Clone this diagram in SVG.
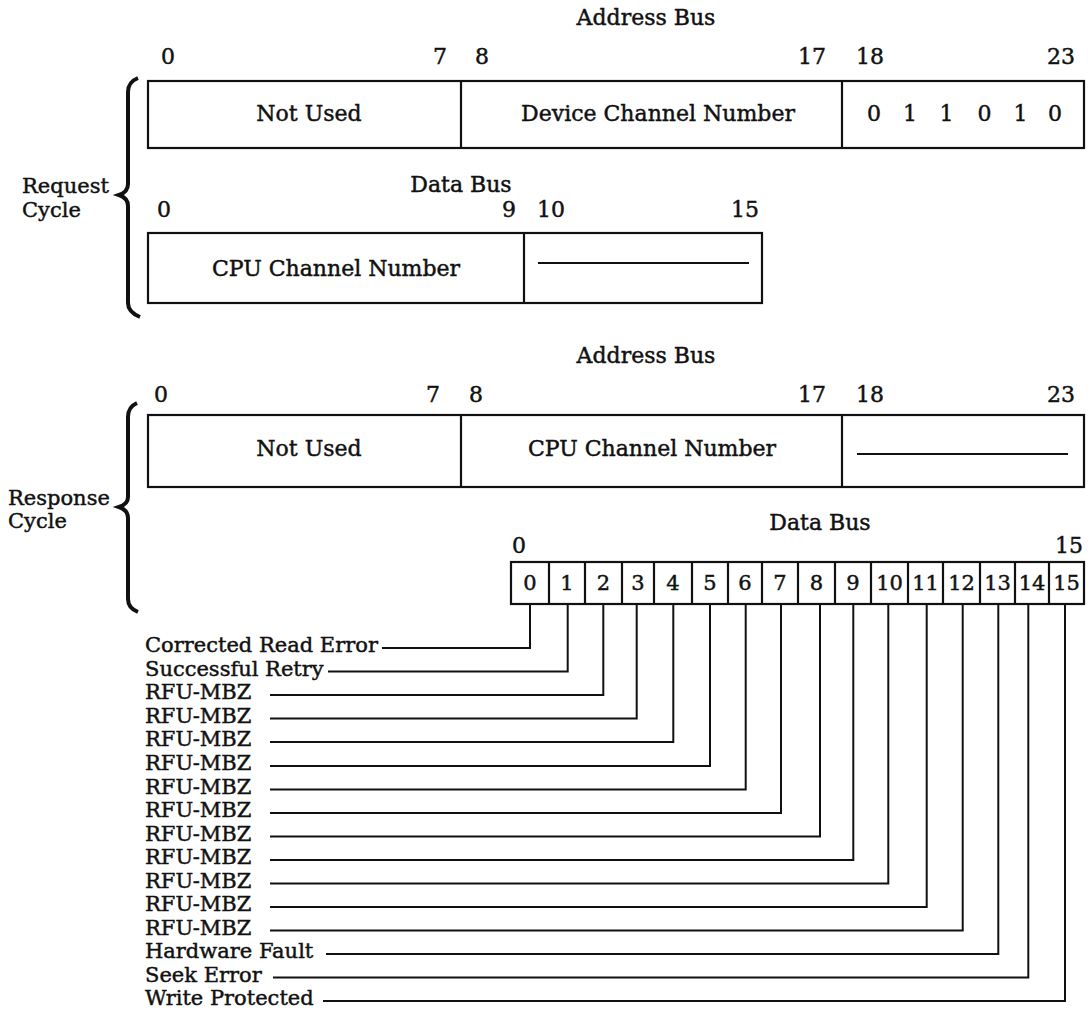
<svg xmlns="http://www.w3.org/2000/svg" width="1092" height="1014" viewBox="0 0 1092 1014">
<style>
text{font-family:"DejaVu Serif","Liberation Serif",serif;fill:#111;stroke:#111;stroke-width:0.45;}
.t{font-size:22px;}
.s{font-size:21px;}
.box{fill:#fff;stroke:#111;stroke-width:2.2;}
.ln{stroke:#111;stroke-width:2.2;fill:none;}
.br{stroke:#111;stroke-width:4;fill:none;stroke-linejoin:miter;}
.c{stroke:#111;stroke-width:2;fill:none;}
.m{text-anchor:middle;}
.e{text-anchor:end;}
</style>
<rect width="1092" height="1014" fill="#fff"/>

<g id="request-cycle">
  <path class="br" d="M138,78 Q128,82 128,92 L128,184 Q128,192 119,195 Q128,198 128,206 L128,303 Q128,312 140,317"/>
  <text class="s" x="22" y="193">Request</text>
  <text class="s" x="22" y="216.5">Cycle</text>
</g>

<g id="req-address">
  <text class="t m" x="646" y="25">Address Bus</text>
  <text class="t" x="161" y="64">0</text>
  <text class="t e" x="447" y="64">7</text>
  <text class="t" x="475" y="64">8</text>
  <text class="t e" x="826" y="64">17</text>
  <text class="t" x="856" y="64">18</text>
  <text class="t e" x="1075" y="64">23</text>
  <rect class="box" x="148" y="81" width="936" height="67"/>
  <line class="ln" x1="461" y1="81" x2="461" y2="148"/>
  <line class="ln" x1="842" y1="81" x2="842" y2="148"/>
  <text class="t m" x="309" y="121">Not Used</text>
  <text class="t m" x="658" y="121">Device Channel Number</text>
  <text class="t m" x="874" y="121">0</text>
  <text class="t m" x="910" y="121">1</text>
  <text class="t m" x="946.5" y="121">1</text>
  <text class="t m" x="984.5" y="121">0</text>
  <text class="t m" x="1020.5" y="121">1</text>
  <text class="t m" x="1055" y="121">0</text>
</g>

<g id="req-data">
  <text class="t m" x="461" y="192">Data Bus</text>
  <text class="t" x="157" y="217">0</text>
  <text class="t e" x="516" y="217">9</text>
  <text class="t" x="537" y="217">10</text>
  <text class="t e" x="759" y="217">15</text>
  <rect class="box" x="148" y="233" width="614" height="70"/>
  <line class="ln" x1="524" y1="233" x2="524" y2="303"/>
  <text class="t m" x="336" y="276">CPU Channel Number</text>
  <line class="ln" x1="538" y1="263" x2="749" y2="263" stroke-width="2.6"/>
</g>

<g id="response-cycle">
  <path class="br" d="M137,403 Q128,407 128,417 L128,497 Q128,504 119,507 Q128,510 128,518 L128,599 Q128,608 138,612"/>
  <text class="s" x="8" y="505">Response</text>
  <text class="s" x="8" y="528">Cycle</text>
</g>

<g id="resp-address">
  <text class="t m" x="646" y="363">Address Bus</text>
  <text class="t" x="154" y="402">0</text>
  <text class="t e" x="440" y="402">7</text>
  <text class="t" x="469" y="402">8</text>
  <text class="t e" x="826" y="402">17</text>
  <text class="t" x="856" y="402">18</text>
  <text class="t e" x="1075" y="402">23</text>
  <rect class="box" x="148" y="415" width="936" height="72"/>
  <line class="ln" x1="461" y1="415" x2="461" y2="487"/>
  <line class="ln" x1="842" y1="415" x2="842" y2="487"/>
  <text class="t m" x="309" y="456">Not Used</text>
  <text class="t m" x="652" y="456">CPU Channel Number</text>
  <line class="ln" x1="857" y1="454" x2="1068" y2="454" stroke-width="2.6"/>
</g>

<g id="resp-data">
  <text class="t m" x="820" y="530">Data Bus</text>
  <text class="t" x="512" y="553">0</text>
  <text class="t e" x="1083" y="553">15</text>
  <rect class="box" x="511" y="562" width="573" height="42"/>
  <path class="ln" d="M549,562V604M585,562V604M622,562V604M654,562V604M692,562V604M728,562V604M762,562V604M798,562V604M835,562V604M871,562V604M908,562V604M943,562V604M980,562V604M1015,562V604M1049,562V604"/>
  <g class="s m">
    <text x="530" y="590">0</text>
    <text x="567" y="590">1</text>
    <text x="603.5" y="590">2</text>
    <text x="638" y="590">3</text>
    <text x="673" y="590">4</text>
    <text x="710" y="590">5</text>
    <text x="745" y="590">6</text>
    <text x="780" y="590">7</text>
    <text x="816.5" y="590">8</text>
    <text x="853" y="590">9</text>
    <text x="889.5" y="590">10</text>
    <text x="925.5" y="590">11</text>
    <text x="961.5" y="590">12</text>
    <text x="997.5" y="590">13</text>
    <text x="1032" y="590">14</text>
    <text x="1066.5" y="590">15</text>
  </g>
</g>

<g id="bit-labels" class="s">
  <text x="145" y="652">Corrected Read Error</text>
  <text x="145" y="675.5">Successful Retry</text>
  <text x="145" y="699">RFU-MBZ</text>
  <text x="145" y="722.5">RFU-MBZ</text>
  <text x="145" y="746">RFU-MBZ</text>
  <text x="145" y="770">RFU-MBZ</text>
  <text x="145" y="793.5">RFU-MBZ</text>
  <text x="145" y="817">RFU-MBZ</text>
  <text x="145" y="840.5">RFU-MBZ</text>
  <text x="145" y="864">RFU-MBZ</text>
  <text x="145" y="887.5">RFU-MBZ</text>
  <text x="145" y="911">RFU-MBZ</text>
  <text x="145" y="934.5">RFU-MBZ</text>
  <text x="145" y="958">Hardware Fault</text>
  <text x="145" y="981.5">Seek Error</text>
  <text x="145" y="1005">Write Protected</text>
</g>

<g id="connectors" class="c">
  <path d="M382,648H530V604"/>
  <path d="M328,671.5H567.7V604"/>
  <path d="M270,695H603.3V604"/>
  <path d="M270,718.5H636.7V604"/>
  <path d="M270,742H673.3V604"/>
  <path d="M270,766H710V604"/>
  <path d="M270,789.5H745.7V604"/>
  <path d="M270,813H781V604"/>
  <path d="M270,836.5H820V604"/>
  <path d="M270,860H853.3V604"/>
  <path d="M270,883.5H888.3V604"/>
  <path d="M270,907H926.7V604"/>
  <path d="M270,930.5H962.7V604"/>
  <path d="M326,954H998.3V604"/>
  <path d="M273,977.5H1028.3V604"/>
  <path d="M323,1001H1065V604"/>
</g>
</svg>
